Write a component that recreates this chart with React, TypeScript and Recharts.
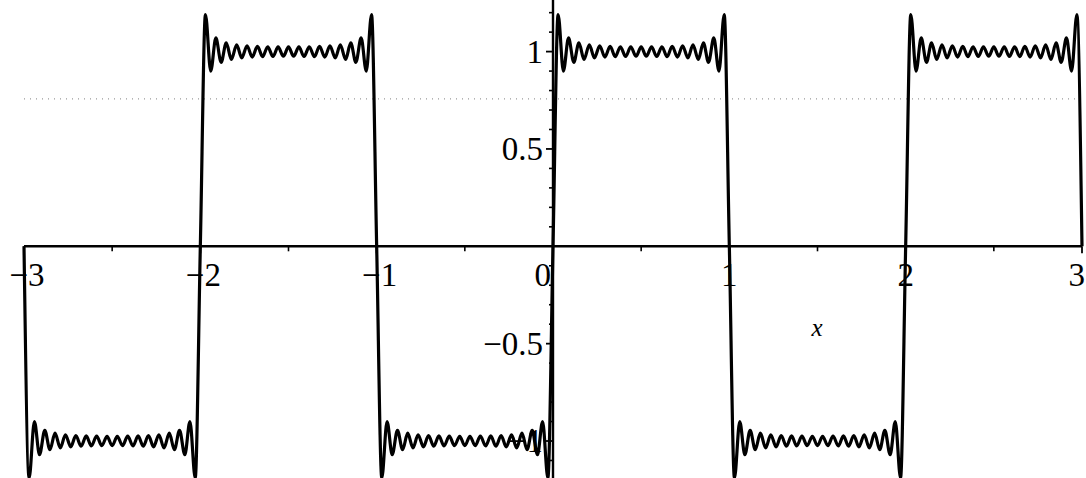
import { Line, LineChart, ReferenceDot, ReferenceLine, XAxis, YAxis } from "recharts";

// one half period of the partial Fourier sum
const plateauOffsets = [
  0, 0.029, 0.059, 0.088, 0.118, 0.147, 0.176, 0.206, 0.235, 0.265, 0.294, 0.324,
  0.353, 0.382, 0.412, 0.441, 0.471, 0.5, 0.529, 0.559, 0.588, 0.618, 0.647,
  0.676, 0.706, 0.735, 0.765, 0.794, 0.824, 0.853, 0.882, 0.912, 0.941, 0.971, 1,
];
const plateauValues = [
  0, 1.19, 0.9, 1.07, 0.945, 1.045, 0.96, 1.035, 0.968, 1.03, 0.972, 1.027,
  0.974, 1.025, 0.975, 1.024, 0.976, 1.024, 0.976, 1.024, 0.975, 1.025, 0.974,
  1.027, 0.972, 1.03, 0.968, 1.035, 0.96, 1.045, 0.945, 1.07, 0.9, 1.19, 0,
];
// each unit interval is a plateau above (+1) or below (-1) the axis
const halfPeriodStarts = [-3, -2, -1, 0, 1, 2];
const halfPeriodSigns = [-1, 1, -1, 1, -1, 1];

const xTicks = [-3, -2, -1, 0, 1, 2, 3];
const xTickLabels = ["\u22123", "\u22122", "\u22121", "0", "1", "2", "3"];
const xMinorTicks = [-2.5, -1.5, -0.5, 0.5, 1.5, 2.5];
const yTicks = [-1, -0.5, 0.5, 1];
const yTickLabels = ["\u22121", "\u22120.5", "0.5", "1"];
const yMinorTicks = [
  -1.1, -0.9, -0.8, -0.7, -0.6, -0.4, -0.3, -0.2, -0.1, 0.1, 0.2, 0.3, 0.4,
  0.6, 0.7, 0.8, 0.9, 1.1, 1.2,
];
const scanLineY = 0.757;

const data: { x: number; y: number }[] = [];
halfPeriodStarts.forEach((start, i) => {
  plateauOffsets.forEach((off, j) => {
    if (j === plateauOffsets.length - 1 && i < halfPeriodStarts.length - 1) return;
    data.push({ x: start + off, y: halfPeriodSigns[i] * plateauValues[j] });
  });
});

const FONT = "'Liberation Serif', 'Times New Roman', serif";

export default function App() {
  return (
    <div style={{ position: "absolute", left: 0, top: 0, background: "#fff" }}>
      <LineChart
        width={1086}
        height={478}
        data={data}
        margin={{ top: 0, right: 4, left: 24, bottom: 0 }}
      >
        <XAxis type="number" dataKey="x" domain={[-3, 3]} hide />
        <YAxis type="number" domain={[-1.185, 1.265]} hide />
        <ReferenceLine
          y={scanLineY}
          stroke="#9a9a9a"
          strokeDasharray="1 5"
          strokeWidth={1.2}
        />
        <ReferenceLine y={0} stroke="#000" strokeWidth={2.4} />
        <ReferenceLine x={0} stroke="#000" strokeWidth={2.4} />
        {xMinorTicks.map((v) => (
          <ReferenceDot
            key={`xm${v}`}
            x={v}
            y={0}
            shape={(p: any) => (
              <line x1={p.cx} y1={p.cy} x2={p.cx} y2={p.cy + 5} stroke="#000" strokeWidth={1.6} />
            )}
          />
        ))}
        {yMinorTicks.map((v) => (
          <ReferenceDot
            key={`ym${v}`}
            x={0}
            y={v}
            shape={(p: any) => (
              <line x1={p.cx - 4} y1={p.cy} x2={p.cx} y2={p.cy} stroke="#000" strokeWidth={1.6} />
            )}
          />
        ))}
        {yTicks.map((v, i) => (
          <ReferenceDot
            key={`y${v}`}
            x={0}
            y={v}
            shape={(p: any) => (
              <g>
                <line x1={p.cx - 7} y1={p.cy} x2={p.cx} y2={p.cy} stroke="#000" strokeWidth={1.8} />
                <text
                  x={p.cx - 10}
                  y={p.cy + 11}
                  textAnchor="end"
                  fontFamily={FONT}
                  fontSize={33}
                  fill="#000"
                >
                  {yTickLabels[i]}
                </text>
              </g>
            )}
          />
        ))}
        {xTicks.map((v, i) => (
          <ReferenceDot
            key={`x${v}`}
            x={v}
            y={0}
            shape={(p: any) => (
              <g>
                <line x1={p.cx} y1={p.cy} x2={p.cx} y2={p.cy + 7} stroke="#000" strokeWidth={1.8} />
                <text
                  x={v === 0 ? p.cx - 2 : v === 3 ? p.cx + 3 : v < 0 ? p.cx + 3 : p.cx}
                  y={p.cy + 40}
                  textAnchor={v === 0 || v === 3 ? "end" : "middle"}
                  fontFamily={FONT}
                  fontSize={33}
                  fill="#000"
                >
                  {xTickLabels[i]}
                </text>
              </g>
            )}
          />
        ))}
        <ReferenceDot
          x={1.497}
          y={-0.426}
          shape={(p: any) => (
            <text
              x={p.cx}
              y={p.cy + 7}
              textAnchor="middle"
              fontFamily={FONT}
              fontStyle="italic"
              fontSize={25}
              fill="#000"
            >
              x
            </text>
          )}
        />
        <Line
          type="monotone"
          dataKey="y"
          stroke="#000"
          strokeWidth={3.2}
          dot={false}
          isAnimationActive={false}
        />
      </LineChart>
    </div>
  );
}
